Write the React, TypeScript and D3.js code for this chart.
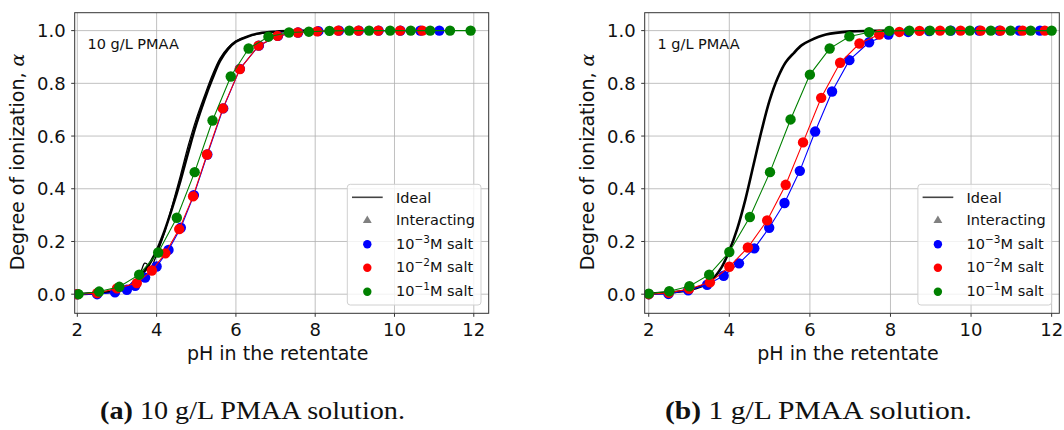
import React from "react";
import * as d3 from "d3";

// ---------- Data: panel (a) 10 g/L PMAA ----------
const aIdealPH = [2.0, 2.5, 3.0, 3.3, 3.6, 3.8, 4.0, 4.2, 4.4, 4.6, 4.8, 5.0, 5.2, 5.4, 5.6, 5.8, 6.0, 6.3, 6.6, 7.0, 7.5, 8.0];
const aIdealAlpha = [0.001, 0.004, 0.013, 0.03, 0.07, 0.11, 0.165, 0.24, 0.33, 0.43, 0.54, 0.645, 0.735, 0.815, 0.885, 0.93, 0.958, 0.978, 0.99, 0.996, 0.999, 1.0];
const aIdeal2PH = [2.0, 2.5, 3.0, 3.4, 3.6, 3.7, 3.77, 3.72, 3.85, 4.0, 4.2, 4.4, 4.6, 4.8, 5.0, 5.2, 5.4, 5.6, 5.8, 6.0, 6.4, 7.0, 8.0];
const aIdeal2Alpha = [0.001, 0.005, 0.015, 0.04, 0.085, 0.118, 0.112, 0.092, 0.1, 0.15, 0.235, 0.34, 0.45, 0.565, 0.665, 0.75, 0.83, 0.895, 0.935, 0.96, 0.982, 0.996, 1.0];

const aSalt3PH = [2.0, 2.5, 2.95, 3.25, 3.46, 3.71, 4.0, 4.3, 4.61, 4.94, 5.28, 5.68, 6.1, 6.58, 7.06, 7.57, 8.08, 8.6, 9.1, 9.6, 10.15, 10.65, 11.13];
const aSalt3Alpha = [0.0, 0.0, 0.007, 0.017, 0.032, 0.063, 0.105, 0.168, 0.252, 0.376, 0.53, 0.705, 0.855, 0.943, 0.98, 0.993, 0.998, 1.0, 1.0, 1.0, 1.0, 1.0, 1.0];
const aSalt2PH = [2.0, 2.5, 3.0, 3.5, 3.88, 4.22, 4.57, 4.92, 5.27, 5.67, 6.1, 6.57, 7.05, 7.56, 8.05, 8.58, 9.09, 9.59, 10.14, 10.7];
const aSalt2Alpha = [0.0, 0.004, 0.022, 0.042, 0.09, 0.155, 0.247, 0.371, 0.53, 0.705, 0.854, 0.943, 0.98, 0.993, 0.997, 1.0, 1.0, 1.0, 1.0, 1.0];
const aSalt1PH = [2.03, 2.55, 3.06, 3.56, 4.04, 4.51, 4.96, 5.41, 5.87, 6.32, 6.82, 7.34, 7.84, 8.36, 8.86, 9.36, 9.89, 10.41, 10.9, 11.4, 11.92];
const aSalt1Alpha = [0.0, 0.01, 0.028, 0.074, 0.158, 0.29, 0.463, 0.659, 0.826, 0.932, 0.977, 0.993, 0.996, 0.999, 1.0, 1.0, 1.0, 1.0, 1.0, 1.0, 1.0];

// ---------- Data: panel (b) 1 g/L PMAA ----------
const bIdealPH = [2.0, 2.5, 3.0, 3.5, 3.8, 4.0, 4.2, 4.4, 4.6, 4.8, 5.0, 5.2, 5.4, 5.6, 5.8, 6.0, 6.4, 7.0, 7.5, 8.0];
const bIdealAlpha = [0.002, 0.006, 0.016, 0.045, 0.1, 0.165, 0.25, 0.36, 0.49, 0.62, 0.735, 0.82, 0.88, 0.915, 0.945, 0.962, 0.985, 0.997, 0.999, 1.0];

const bSalt3PH = [2.0, 2.49, 2.98, 3.45, 3.86, 4.24, 4.62, 4.99, 5.37, 5.75, 6.13, 6.55, 6.98, 7.47, 7.95, 8.44, 8.96, 9.5, 10.2, 10.7, 11.2, 11.71];
const bSalt3Alpha = [0.0, 0.001, 0.015, 0.036, 0.07, 0.117, 0.174, 0.252, 0.346, 0.468, 0.617, 0.769, 0.888, 0.956, 0.985, 0.995, 0.998, 1.0, 1.0, 1.0, 1.0, 1.0];
const bSalt2PH = [2.0, 2.5, 3.0, 3.52, 4.0, 4.46, 4.94, 5.4, 5.83, 6.28, 6.75, 7.23, 7.72, 8.22, 8.72, 9.23, 9.74, 10.24, 10.73, 11.28, 11.83];
const bSalt2Alpha = [0.0, 0.005, 0.02, 0.045, 0.104, 0.177, 0.28, 0.415, 0.576, 0.745, 0.878, 0.951, 0.985, 0.995, 0.999, 1.0, 1.0, 1.0, 1.0, 1.0, 1.0];
const bSalt1PH = [2.0, 2.51, 3.01, 3.5, 4.0, 4.51, 5.01, 5.52, 6.0, 6.49, 6.98, 7.47, 7.97, 8.47, 8.98, 9.48, 9.97, 10.49, 10.98, 11.48, 12.0];
const bSalt1Alpha = [0.002, 0.011, 0.03, 0.074, 0.16, 0.293, 0.463, 0.663, 0.833, 0.932, 0.978, 0.994, 0.999, 1.0, 1.0, 1.0, 1.0, 1.0, 1.0, 1.0, 1.0];

// ---------- Labels ----------
const xTicks = [2, 4, 6, 8, 10, 12];
const yTicks = [0.0, 0.2, 0.4, 0.6, 0.8, 1.0];
const xLabel = "pH in the retentate";
const yLabel = "Degree of ionization, ";
const legendExps = ["\u22123", "\u22122", "\u22121"];
const seriesColors = ["#0000ff", "#ff0000", "#008000"];

type Pt = [number, number];
const zip = (xs: number[], ys: number[]): Pt[] => xs.map((x, i) => [x, ys[i]]);

const FONT = "DejaVu Sans, sans-serif";

interface PanelProps {
  left: number;
  right: number;
  xDomain: [number, number];
  note: string;
  ideal: Pt[][];
  series: Pt[][];
}

const TOP = 12.7;
const BOTTOM = 313.3;

function Panel({ left, right, xDomain, note, ideal, series }: PanelProps) {
  const x = d3.scaleLinear().domain(xDomain).range([left, right]);
  const y = d3.scaleLinear().domain([-0.0725, 1.068]).range([BOTTOM, TOP]);
  const smooth = d3.line<Pt>().x(d => x(d[0])).y(d => y(d[1])).curve(d3.curveCatmullRom.alpha(0.5));
  const straight = d3.line<Pt>().x(d => x(d[0])).y(d => y(d[1]));
  const lx = right - 141.4; // legend box left
  const ly = 184.3;
  const rows = [197.3, 220, 243.3, 266.7, 290.7].map(v => v - ly);
  const clipId = `clip-${Math.round(left)}`;
  return (
    <g>
      <defs>
        <clipPath id={clipId}>
          <rect x={left} y={TOP} width={right - left} height={BOTTOM - TOP} />
        </clipPath>
      </defs>
      {/* grid */}
      {xTicks.map(t => (
        <line key={`gx${t}`} x1={x(t)} x2={x(t)} y1={TOP} y2={BOTTOM} stroke="#b0b0b0" strokeWidth={0.8} />
      ))}
      {yTicks.map(t => (
        <line key={`gy${t}`} x1={left} x2={right} y1={y(t)} y2={y(t)} stroke="#b0b0b0" strokeWidth={0.8} />
      ))}
      <g clipPath={`url(#${clipId})`}>
        {ideal.map((d, i) => (
          <path key={`id${i}`} d={smooth(d) || ""} fill="none" stroke="#000" strokeWidth={i === 0 ? 2.6 : 1.3} />
        ))}
        {series.map((s, i) => (
          <g key={`s${i}`}>
            <path d={straight(s) || ""} fill="none" stroke={seriesColors[i]} strokeWidth={1.1} />
            {s.map((p, j) => (
              <circle key={j} cx={x(p[0])} cy={y(p[1])} r={5.2} fill={seriesColors[i]} />
            ))}
          </g>
        ))}
      </g>
      {/* frame */}
      <rect x={left} y={TOP} width={right - left} height={BOTTOM - TOP} fill="none" stroke="#333" strokeWidth={1} />
      {/* ticks */}
      {xTicks.map(t => (
        <g key={`tx${t}`}>
          <line x1={x(t)} x2={x(t)} y1={BOTTOM} y2={BOTTOM + 3.5} stroke="#333" strokeWidth={1} />
          <text x={x(t)} y={335.5} textAnchor="middle" fontFamily={FONT} fontSize={18} fill="#111">{t}</text>
        </g>
      ))}
      {yTicks.map(t => (
        <g key={`ty${t}`}>
          <line x1={left - 3.5} x2={left} y1={y(t)} y2={y(t)} stroke="#333" strokeWidth={1} />
          <text x={left - 9} y={y(t) + 6.5} textAnchor="end" fontFamily={FONT} fontSize={18} fill="#111">{t.toFixed(1)}</text>
        </g>
      ))}
      {/* axis labels */}
      <text x={(left + right) / 2 - 4} y={360} textAnchor="middle" fontFamily={FONT} fontSize={19} fill="#111">{xLabel}</text>
      <text transform={`translate(${left - 51},${(TOP + BOTTOM) / 2 - 1}) rotate(-90)`} textAnchor="middle" fontFamily={FONT} fontSize={19} fill="#111">
        {yLabel}<tspan fontStyle="italic" fontFamily="DejaVu Serif, serif">α</tspan>
      </text>
      {/* annotation */}
      <text x={left + 12.8} y={49} fontFamily={FONT} fontSize={14.5} fill="#111">{note}</text>
      {/* legend */}
      <g transform={`translate(${lx},${ly})`}>
        <rect x={0} y={0} width={133.7} height={120.7} rx={3} fill="#fff" fillOpacity={0.8} stroke="#d0d0d0" strokeWidth={1} />
        <line x1={4.7} x2={35.4} y1={rows[0]} y2={rows[0]} stroke="#444" strokeWidth={1.6} />
        <text x={48.7} y={rows[0] + 5.3} fontFamily={FONT} fontSize={14.5} fill="#111">Ideal</text>
        <path d={d3.symbol(d3.symbolTriangle, 34)() || ""} transform={`translate(20,${rows[1] + 0.5})`} fill="#808080" />
        <text x={48.7} y={rows[1] + 5.3} fontFamily={FONT} fontSize={14.5} fill="#111">Interacting</text>
        {legendExps.map((e, i) => (
          <g key={`lg${i}`}>
            <circle cx={20} cy={rows[i + 2] + 1} r={4.2} fill={seriesColors[i]} />
            <text x={48.7} y={rows[i + 2] + 5.3} fontFamily={FONT} fontSize={14.5} fill="#111">
              10<tspan fontSize={10.5} dy={-6}>{e}</tspan><tspan dy={6}>M salt</tspan>
            </text>
          </g>
        ))}
      </g>
    </g>
  );
}

export default function App() {
  const aIdeal = [zip(aIdealPH, aIdealAlpha), zip(aIdeal2PH, aIdeal2Alpha)];
  const aSeries = [zip(aSalt3PH, aSalt3Alpha), zip(aSalt2PH, aSalt2Alpha), zip(aSalt1PH, aSalt1Alpha)];
  const bIdeal = [zip(bIdealPH, bIdealAlpha)];
  const bSeries = [zip(bSalt3PH, bSalt3Alpha), zip(bSalt2PH, bSalt2Alpha), zip(bSalt1PH, bSalt1Alpha)];
  return (
    <svg width={1064} height={430} style={{ position: "absolute", left: 0, top: 0, background: "#fff" }}>
      <rect x={0} y={0} width={1064} height={430} fill="#fff" />
      <Panel left={74.7} right={488.7} xDomain={[1.934, 12.376]} note="10 g/L PMAA" ideal={aIdeal} series={aSeries} />
      <Panel left={644.7} right={1059.3} xDomain={[1.9, 12.19]} note="1 g/L PMAA" ideal={bIdeal} series={bSeries} />
      <text x={100} y={419} fontFamily="Liberation Serif, serif" fontSize={25} fill="#111" textLength={305} lengthAdjust="spacingAndGlyphs">
        <tspan fontWeight="bold">(a)</tspan> 10 g/L PMAA solution.
      </text>
      <text x={665} y={419} fontFamily="Liberation Serif, serif" fontSize={25} fill="#111" textLength={307} lengthAdjust="spacingAndGlyphs">
        <tspan fontWeight="bold">(b)</tspan> 1 g/L PMAA solution.
      </text>
    </svg>
  );
}
